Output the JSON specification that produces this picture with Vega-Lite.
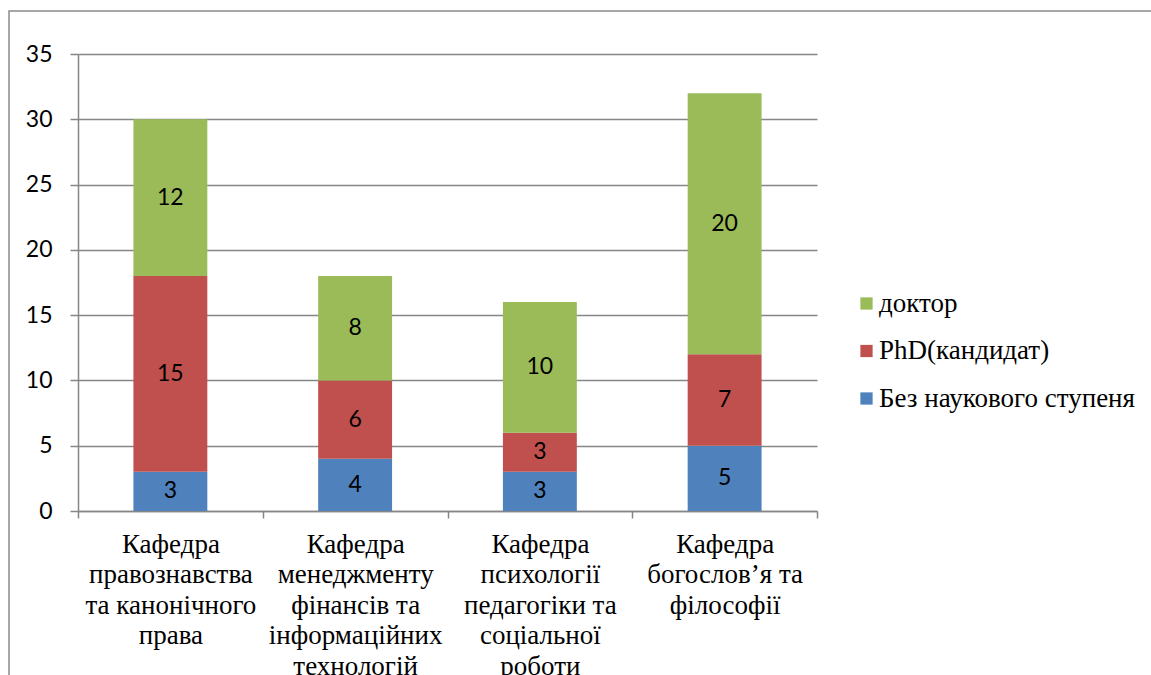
{
  "$schema": "https://vega.github.io/schema/vega-lite/v6.json",
  "width": 1150,
  "height": 680,
  "autosize": {"type": "none"},
  "padding": {"left": 9, "top": 11, "right": 0, "bottom": 0},
  "background": "white",
  "data": {
    "values": [
      {"dept": "Кафедра\nправознавства\nта канонічного\nправа", "degree": "Без наукового ступеня", "count": 3},
      {"dept": "Кафедра\nправознавства\nта канонічного\nправа", "degree": "PhD(кандидат)", "count": 15},
      {"dept": "Кафедра\nправознавства\nта канонічного\nправа", "degree": "доктор", "count": 12},
      {"dept": "Кафедра\nменеджменту\nфінансів та\nінформаційних\nтехнологій", "degree": "Без наукового ступеня", "count": 4},
      {"dept": "Кафедра\nменеджменту\nфінансів та\nінформаційних\nтехнологій", "degree": "PhD(кандидат)", "count": 6},
      {"dept": "Кафедра\nменеджменту\nфінансів та\nінформаційних\nтехнологій", "degree": "доктор", "count": 8},
      {"dept": "Кафедра\nпсихології\nпедагогіки та\nсоціальної\nроботи", "degree": "Без наукового ступеня", "count": 3},
      {"dept": "Кафедра\nпсихології\nпедагогіки та\nсоціальної\nроботи", "degree": "PhD(кандидат)", "count": 3},
      {"dept": "Кафедра\nпсихології\nпедагогіки та\nсоціальної\nроботи", "degree": "доктор", "count": 10},
      {"dept": "Кафедра\nбогослов’я та\nфілософії", "degree": "Без наукового ступеня", "count": 5},
      {"dept": "Кафедра\nбогослов’я та\nфілософії", "degree": "PhD(кандидат)", "count": 7},
      {"dept": "Кафедра\nбогослов’я та\nфілософії", "degree": "доктор", "count": 20}
    ]
  },
  "transform": [
    {"calculate": "indexof(['Без наукового ступеня','PhD(кандидат)','доктор'], datum.degree)", "as": "ord"},
    {"stack": "count", "groupby": ["dept"], "sort": [{"field": "ord", "order": "ascending"}], "as": ["y0", "y1"]},
    {"calculate": "(datum.y0 + datum.y1) / 2", "as": "ymid"}
  ],
  "encoding": {
    "x": {
      "field": "dept",
      "type": "nominal",
      "sort": null,
      "scale": {"paddingInner": 0, "paddingOuter": 0, "range": [69, 808]},
      "axis": {
        "title": null,
        "offset": -180,
        "labelAngle": 0,
        "labelExpr": "split(datum.label, '\\n')",
        "labelFont": "Liberation Serif",
        "labelFontSize": 27,
        "labelLineHeight": 30.5,
        "labelBaseline": "alphabetic",
        "labelPadding": 34,
        "labelColor": "black",
        "labelLimit": 300,
        "tickBand": "extent",
        "tickSize": 7,
        "tickColor": "#868686",
        "domainColor": "#868686",
        "domainWidth": 1.5,
        "tickWidth": 1.5,
        "grid": false
      }
    }
  },
  "layer": [
    {
      "mark": {"type": "bar", "width": {"band": 0.4}},
      "encoding": {
        "y": {
          "field": "y0",
          "type": "quantitative",
          "scale": {"domain": [0, 35], "nice": false, "range": [500, 43]},
          "axis": {
            "title": null,
            "offset": -69,
            "values": [0, 5, 10, 15, 20, 25, 30, 35],
            "grid": true,
            "gridColor": "#868686",
            "gridWidth": 1.5,
            "domainColor": "#868686",
            "domainWidth": 1.5,
            "tickColor": "#868686",
            "tickWidth": 1.5,
            "tickSize": 8,
            "labelFont": "Lato",
            "labelFontSize": 23,
            "labelColor": "black",
            "labelPadding": 18
          }
        },
        "y2": {"field": "y1"},
        "color": {
          "field": "degree",
          "type": "nominal",
          "scale": {
            "domain": ["доктор", "PhD(кандидат)", "Без наукового ступеня"],
            "range": ["#9BBB59", "#C0504D", "#4F81BD"]
          },
          "legend": {
            "title": null,
            "orient": "none",
            "legendX": 844,
            "legendY": 279,
            "padding": 0,
            "symbolType": "square",
            "symbolSize": 150,
            "symbolStrokeWidth": 0,
            "labelFont": "Liberation Serif",
            "labelFontSize": 27,
            "labelColor": "black",
            "labelOffset": -1,
            "rowPadding": 19.5,
            "labelLimit": 400
          }
        }
      }
    },
    {
      "mark": {"type": "text", "font": "Lato", "fontSize": 23, "color": "black", "baseline": "middle"},
      "encoding": {
        "y": {"field": "ymid", "type": "quantitative"},
        "text": {"field": "count", "type": "quantitative"}
      }
    }
  ],
  "config": {"view": {"stroke": "#8a8a8a", "strokeWidth": 1.5}}
}
